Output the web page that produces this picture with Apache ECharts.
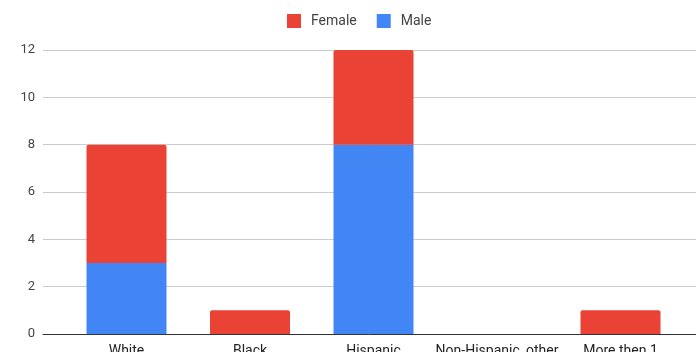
<!DOCTYPE html>
<html>
<head>
<meta charset="utf-8">
<script src="https://cdn.jsdelivr.net/npm/echarts@6/dist/echarts.min.js"></script>
<style>
html, body { margin: 0; padding: 0; background: #fff; }
#chart { width: 696px; height: 352px; }
</style>
</head>
<body>
<div id="chart"></div>
<script>
// 類別與數值
var categories = ['White', 'Black', 'Hispanic', 'Non-Hispanic, other', 'More then 1'];
var maleData = [3, 0, 8, 0, 0];
var femaleData = [5, 1, 4, 0, 1];
var yTicks = [0, 2, 4, 6, 8, 10, 12];

var chart = echarts.init(document.getElementById('chart'));
var fontFam = 'Roboto, Arial, sans-serif';

var option = {
    animation: false,
    textStyle: { fontFamily: fontFam },
    legend: {
        data: ['Female', 'Male'],
        left: 282,
        top: 9,
        itemWidth: 14,
        itemHeight: 14,
        itemGap: 20,
        icon: 'rect',
        textStyle: { fontSize: 14, color: '#444', fontFamily: fontFam, padding: [0, 0, 0, 5] }
    },
    grid: [
        // 底層格線
        { left: 43, right: 0, top: 50, bottom: 18, outerBoundsMode: 'none' },
        // 長條
        { left: 64.75, width: 617.5, top: 50, bottom: 18, outerBoundsMode: 'none' }
    ],
    xAxis: [
        {
            gridIndex: 0,
            type: 'category',
            data: [''],
            axisLine: { lineStyle: { color: '#333', width: 1 } },
            axisTick: { show: false },
            axisLabel: { show: false }
        },
        {
            gridIndex: 1,
            type: 'category',
            data: categories,
            axisLine: { show: false },
            axisTick: { show: false },
            axisLabel: { fontSize: 14, color: '#222', margin: 10, fontFamily: fontFam, interval: 0 }
        }
    ],
    yAxis: [
        {
            gridIndex: 0,
            type: 'value',
            min: yTicks[0],
            max: yTicks[yTicks.length - 1],
            interval: 2,
            axisLine: { show: false },
            axisTick: { show: false },
            axisLabel: { fontSize: 13, color: '#444', margin: 8, fontFamily: fontFam },
            splitLine: { lineStyle: { color: '#ccc', width: 1 } }
        },
        {
            gridIndex: 1,
            type: 'value',
            min: yTicks[0],
            max: yTicks[yTicks.length - 1],
            show: false
        }
    ],
    series: [
        {
            name: 'Male',
            type: 'bar',
            stack: 'total',
            xAxisIndex: 1,
            yAxisIndex: 1,
            barWidth: 80,
            itemStyle: { color: '#4285F4' },
            data: maleData
        },
        {
            name: 'Female',
            type: 'bar',
            stack: 'total',
            xAxisIndex: 1,
            yAxisIndex: 1,
            barWidth: 80,
            itemStyle: { color: '#EA4335', borderRadius: [2, 2, 0, 0] },
            data: femaleData
        }
    ]
};
chart.setOption(option);
</script>
</body>
</html>
